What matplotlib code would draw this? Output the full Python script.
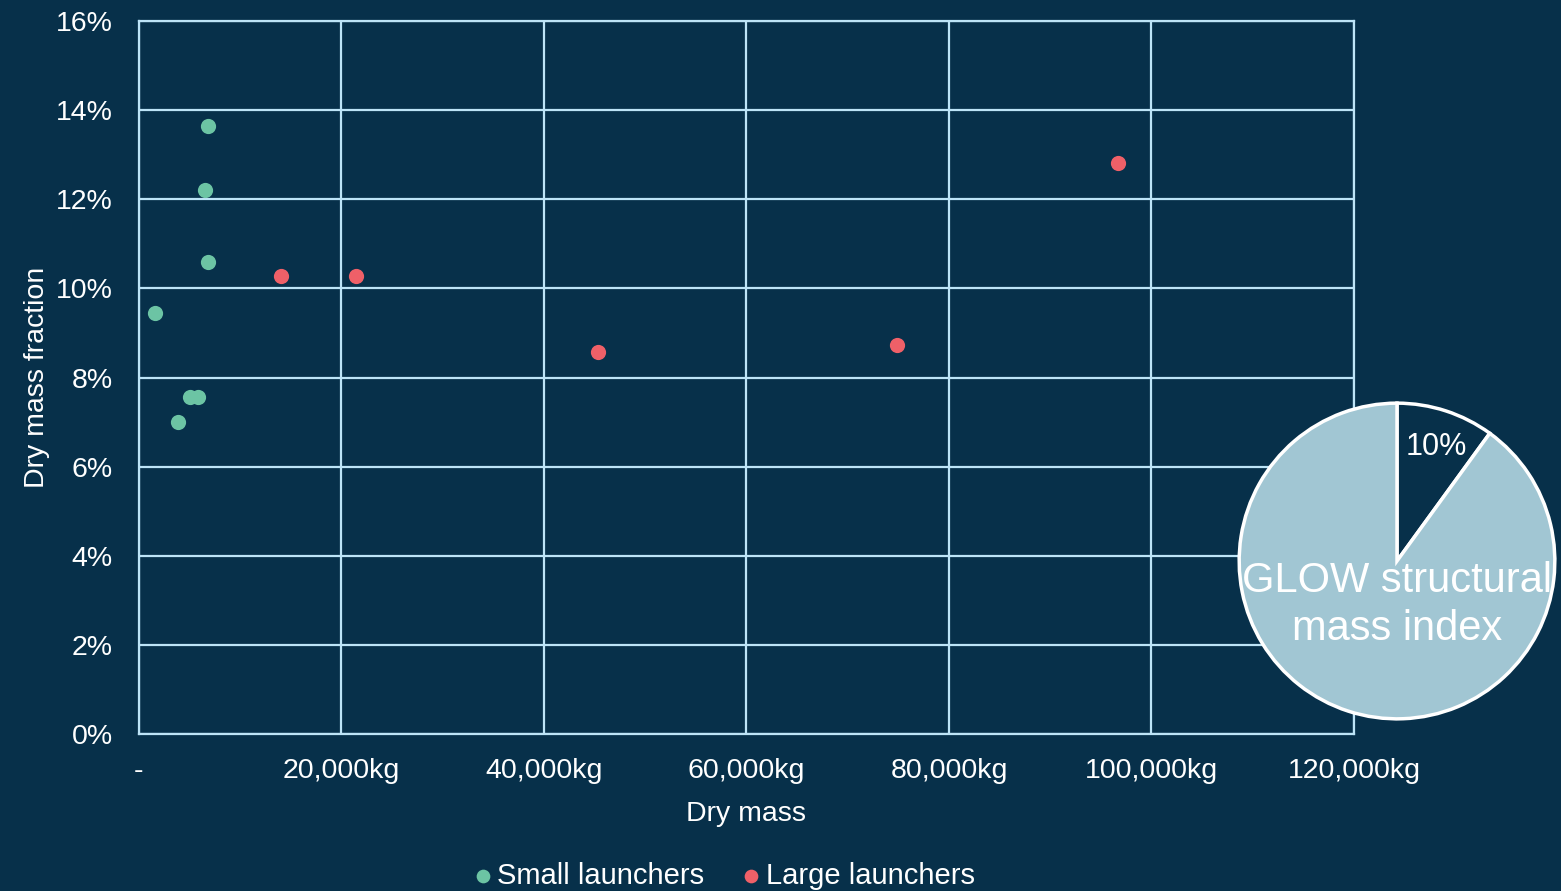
import matplotlib.pyplot as plt
from matplotlib.ticker import FuncFormatter

plt.rcParams['font.family'] = ['Liberation Sans', 'DejaVu Sans']

# data
small_mass = [6800, 6500, 6800, 1600, 5000, 5800, 3900]
small_frac = [13.65, 12.2, 10.6, 9.45, 7.57, 7.57, 7.0]
large_mass = [14000, 21400, 45300, 74900, 96700]
large_frac = [10.27, 10.27, 8.57, 8.72, 12.82]

glow_share = [10, 90]
glow_label = 'GLOW structural\nmass index'

bg = '#07304A'
grid_c = '#BDE4F7'
green = '#6CC4A4'
red = '#EF6068'
pie_c = '#A1C6D3'
white = '#FFFFFF'

fig = plt.figure(figsize=(15.61, 8.91), dpi=100, facecolor=bg)
ax = fig.add_axes([0.089, 0.1762, 0.7784, 0.8002])
ax.set_facecolor(bg)

ax.scatter(small_mass, small_frac, s=120, color=green, zorder=3,
           label='Small launchers', linewidths=0)
ax.scatter(large_mass, large_frac, s=120, color=red, zorder=3,
           label='Large launchers', linewidths=0)

ax.set_xlim(0, 120000)
ax.set_ylim(0, 16)
ax.set_xticks(range(0, 120001, 20000))
ax.set_yticks(range(0, 17, 2))
ax.xaxis.set_major_formatter(FuncFormatter(lambda v, p: '-' if v == 0 else f'{int(v):,}kg'))
ax.yaxis.set_major_formatter(FuncFormatter(lambda v, p: f'{int(v)}%'))
ax.grid(True, color=grid_c, linewidth=1.6, zorder=1)
ax.set_axisbelow(True)
for s in ax.spines.values():
    s.set_color(grid_c)
    s.set_linewidth(1.6)
ax.tick_params(length=0, labelsize=20.5, colors=white)
ax.tick_params(axis='x', pad=17.5)
ax.tick_params(axis='y', pad=19)

ax.set_xlabel('Dry mass', fontsize=20.5, color=white, labelpad=12)
ax.set_ylabel('Dry mass fraction', fontsize=20.5, color=white, labelpad=4)

leg = fig.legend(loc='center', bbox_to_anchor=(0.4575, 0.017), ncol=2, frameon=False,
                 fontsize=21, labelcolor=white, handletextpad=-0.5,
                 columnspacing=0.6, markerscale=0.9)

# inset pie
pax = fig.add_axes([1236 / 1561, 1 - 722 / 891, 322 / 1561, 322 / 891])
pax.pie(glow_share, colors=[bg, pie_c], startangle=90, counterclock=False,
        wedgeprops=dict(edgecolor=white, linewidth=2.5))
pax.set_xlim(-1.02, 1.02)
pax.set_ylim(-1.02, 1.02)
pax.set_aspect('equal')
pax.text(0.25, 0.72, f'{glow_share[0]}%', ha='center', va='center',
         fontsize=22, color=white)
pax.text(0.0, -0.28, glow_label, ha='center', va='center', fontsize=30,
         color=white, linespacing=1.24)

fig.savefig('out.png', dpi=100, facecolor=bg)
